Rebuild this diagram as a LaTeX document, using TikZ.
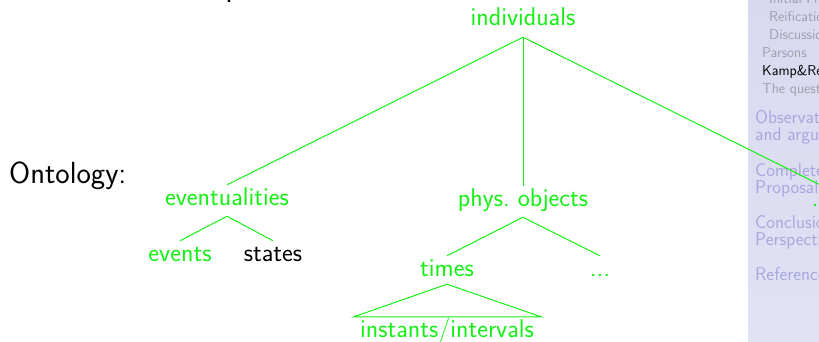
\documentclass[tikz,border=0pt]{standalone}
\usepackage{fontspec}
\usetikzlibrary{calc}
\definecolor{tgreen}{RGB}{20,240,20}
\definecolor{sbtop}{RGB}{216,216,240}
\definecolor{sbbot}{RGB}{226,226,245}
\definecolor{sbsec}{RGB}{168,168,222}
\definecolor{sbsub}{RGB}{158,158,172}
\begin{document}
\begin{tikzpicture}[x=1pt,y=-1pt,
  treenode/.style={anchor=base, inner xsep=0pt, inner ysep=3pt, text height=17pt, text depth=8pt,
    font=\sffamily\fontsize{25.7}{30}\selectfont, text=tgreen},
  edge/.style={draw=tgreen, line width=1pt},
  sbsec/.style={anchor=base west, inner sep=0pt, font=\sffamily\fontsize{18.6}{20}\selectfont, text=sbsec},
  sbsub/.style={anchor=base west, inner sep=0pt, font=\sffamily\fontsize{14.3}{16}\selectfont, text=sbsub},
  sbcur/.style={sbsub, text=black},
  plain/.style={anchor=base west, inner sep=0pt, font=\sffamily\fontsize{30.5}{34}\selectfont, text=black}
]
\useasboundingbox (0,0) rectangle (819,342);
\clip (0,0) rectangle (819,342);
% sidebar
\shade[top color=sbtop, bottom color=sbbot] (748,0) rectangle (819,342);
\node[sbsub] (s1) at (769,4) {Initial Framework};
\node[sbsub] (s2) at (769,22) {Reification};
\node[sbsub] (s3) at (769,40) {Discussion};
\node[sbsub] (s4) at (762,58) {Parsons};
\node[sbcur] (s5) at (762,76) {Kamp\&Reyle};
\node[sbsub] (s6) at (762,94) {The question};
\node[sbsec] (s7) at (755,124) {Observations};
\node[sbsec] (s8) at (755,141) {and arguments};
\node[sbsec] (s9) at (755,176) {Complete};
\node[sbsec] (s10) at (755,193) {Proposal};
\node[sbsec] (s11) at (755,228) {Conclusions and};
\node[sbsec] (s12) at (755,245) {Perspectives};
\node[sbsec] (s13) at (755,280) {References};
% top fragment
\node[plain] (frag) at (225,3) {.};
% left label
\node[plain] (onto) at (9,183) {Ontology:};
% tree
\node[treenode] (ind) at (523,26) {individuals};
\node[treenode] (ev) at (227,205) {eventualities};
\node[treenode] (po) at (523,206) {phys.\ objects};
\node[treenode] (odots) at (822,206) {...};
\node[treenode] (evs) at (180,261) {events};
\node[treenode, text=black] (st) at (273,261) {states};
\node[treenode] (tm) at (447,276) {times};
\node[treenode] (pdots) at (600,276) {...};
\node[treenode] (inst) at (447,337) {instants/intervals};
\draw[edge] (ind.south) -- (ev.north);
\draw[edge] (ind.south) -- (po.north);
\draw[edge] (ind.south) -- (odots.north);
\draw[edge] (ev.south) -- (evs.north);
\draw[edge] (ev.south) -- (st.north);
\draw[edge] (po.south) -- (tm.north);
\draw[edge] (po.south) -- (pdots.north);
\coordinate (tapex) at ($(tm.south)+(0,-3)$);
\coordinate (tl) at ($(inst.north west)+(-6,0)$);
\coordinate (tr) at ($(inst.north east)+(7,0)$);
\draw[edge] (tl) -- (tapex) -- (tr) -- cycle;
\end{tikzpicture}
\end{document}
